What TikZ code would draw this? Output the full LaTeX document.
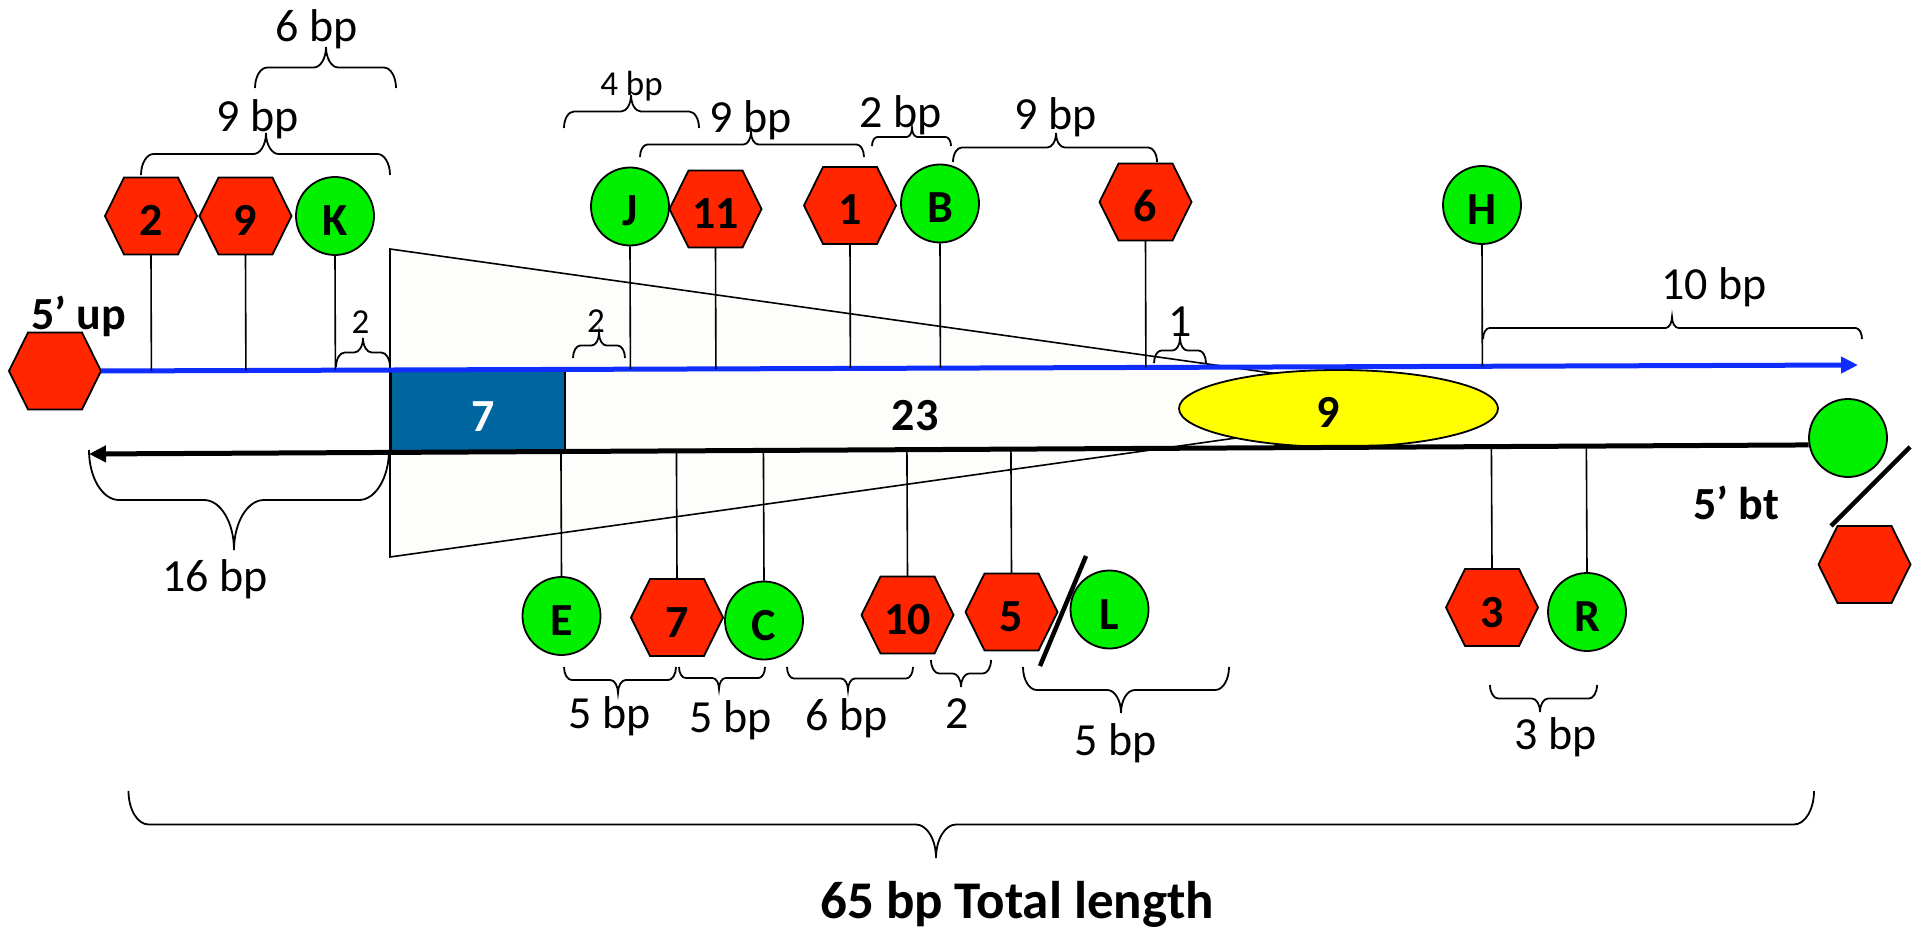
\documentclass[tikz,border=0pt]{standalone}
\usepackage{fontspec}
\setmainfont{Carlito}
\usetikzlibrary{calc,arrows.meta,shapes.geometric}
\definecolor{hexred}{RGB}{255,38,0}
\definecolor{grn}{RGB}{0,240,0}
\definecolor{boxblue}{RGB}{0,102,160}
\definecolor{lineblue}{RGB}{15,45,255}
\definecolor{yel}{RGB}{255,255,0}
\definecolor{trifill}{RGB}{253,253,251}
\tikzset{
  outl/.style={draw=black, line width=1.8pt},
  hexshape/.style={outl, fill=hexred},
  hexbox/.style={inner sep=0pt, minimum width=92pt, minimum height=77pt, draw=none},
  circ/.style={ellipse, outl, fill=grn, inner sep=0pt, minimum width=78pt, minimum height=78pt},
  inlbl/.style={font=\bfseries\fontsize{46}{46}\selectfont, anchor=base, yshift=-19.5pt, inner sep=0pt},
  lbl/.style={font=\fontsize{46}{46}\selectfont, anchor=base, inner sep=0pt},
  smlbl/.style={font=\fontsize{35}{35}\selectfont, anchor=base, inner sep=0pt},
  boldlbl/.style={font=\bfseries\fontsize{46}{46}\selectfont, anchor=base, inner sep=0pt},
  stem/.style={line width=1.6pt},
  brc/.style={line width=1.8pt},
  slash/.style={line width=4.5pt},
  blueln/.style={line width=5pt, draw=lineblue, -{Triangle[length=17pt,width=16pt]}},
  blackln/.style={line width=5pt, draw=black, -{Triangle[length=17pt,width=16pt]}},
}
% hexagon: name, x, y, text
\newcommand\hexa[4]{%
  \draw[hexshape] ({#2-46},{#3}) -- ({#2-27},{#3-38.5}) -- ({#2+27},{#3-38.5}) -- ({#2+46},{#3}) -- ({#2+27},{#3+38.5}) -- ({#2-27},{#3+38.5}) -- cycle;
  \node[hexbox] (#1) at (#2,#3) {};
  \node[inlbl] (#1t) at (#2,#3) {#4};
}
% circle: name, x, y, text
\newcommand\circa[4]{%
  \node[circ] (#1) at (#2,#3) {};
  \node[inlbl] (#1t) at (#2,#3) {#4};
}
% brace: x1, x2, yEnd, yTip, xTip
\newcommand\mybrace[5]{%
  \pgfmathsetmacro\mbrD{((#4)-(#3))/2}%
  \pgfmathsetmacro\mbrL{(#3)+\mbrD}%
  \pgfmathsetmacro\mbrR{min(0.6*abs(\mbrD),((#2)-(#1))/5)}%
  \draw[brc] (#1,#3) .. controls (#1,{#3+0.552*(\mbrD)}) and ({#1+0.448*\mbrR},\mbrL) .. ({#1+\mbrR},\mbrL)
    -- ({#5-\mbrR},\mbrL) .. controls ({#5-0.448*\mbrR},\mbrL) and (#5,{\mbrL+0.448*(\mbrD)}) .. (#5,#4)
    .. controls (#5,{\mbrL+0.448*(\mbrD)}) and ({#5+0.448*\mbrR},\mbrL) .. ({#5+\mbrR},\mbrL)
    -- ({#2-\mbrR},\mbrL) .. controls ({#2-0.448*\mbrR},\mbrL) and (#2,{#3+0.552*(\mbrD)}) .. (#2,#3);
}
\begin{document}
\begin{tikzpicture}[x=1pt,y=-1pt]
\fill[white] (0,0) rectangle (1919,933);
\useasboundingbox (0,0) rectangle (1919,933);

% cone
\draw[line width=1.6pt, fill=trifill] (390,249) -- (1485,403) -- (390,557) -- cycle;

% box and ellipse
\node[outl, fill=boxblue, minimum width=174pt, minimum height=83pt, inner sep=0pt] (box) at (478,411.5) {};
\node[inlbl, text=white] (boxt) at (483,411.5) {7};
\node[ellipse, outl, fill=yel, minimum width=319pt, minimum height=77pt, inner sep=0pt] (ell) at (1338.5,408.5) {};
\node[boldlbl] (ellt) at (1328,427) {9};
\node[boldlbl] (mid) at (915,430) {23};

% end markers
\hexa{hexL}{55}{371}{}
\hexa{hexR}{1864.5}{564.5}{}
\node[circ] (cG) at (1848,438) {};
\coordinate (bend) at (1858,365);
\coordinate (kend) at (89,454);

% strands
\draw[blueln] (hexL.east) -- (bend);
\draw[blackln] (cG.190) -- (kend);

% top row
\hexa{hexTwo}{151}{216}{2}
\hexa{hexNine}{245.5}{216}{9}
\circa{cK}{335}{216}{K}
\circa{cJ}{630}{206.5}{J}
\hexa{hexEleven}{715.5}{209}{11}
\hexa{hexOne}{850}{205.5}{1}
\circa{cB}{940}{203.5}{B}
\hexa{hexSix}{1145.5}{202}{6}
\circa{cH}{1482}{205}{H}

% bottom row
\circa{cE}{561.5}{616}{E}
\hexa{hexSevenB}{677}{617.5}{7}
\circa{cC}{764}{620.5}{C}
\hexa{hexTen}{907.5}{615}{10}
\hexa{hexFive}{1011.5}{612}{5}
\circa{cL}{1109.5}{609.5}{L}
\hexa{hexThree}{1492}{607.5}{3}
\circa{cR}{1587}{612}{R}

% stems to top strand
\foreach \n in {hexTwo,hexNine,cK,cJ,hexEleven,hexOne,cB,hexSix,cH}
  \draw[stem] (\n.south) -- ($(hexL.east)!(\n.south)!(bend)$);
% stems to bottom strand
\foreach \n in {cE,hexSevenB,cC,hexTen,hexFive,hexThree,cR}
  \draw[stem] (\n.north) -- ($(cG.190)!(\n.north)!(kend)$);

% slashes
\draw[slash] (1086,556) -- (1040,666);
\draw[slash] (1910,447) -- (1831,526);

% top braces
\mybrace{255}{396}{88}{47}{326}
\node[lbl] (l6bp) at (317,42) {6 bp};
\mybrace{141}{390}{175}{133}{266}
\node[lbl] (l9bpa) at (257.5,132) {9 bp};
\mybrace{564}{699}{128}{95}{631}
\node[smlbl] (l4bp) at (631.5,96) {4 bp};
\mybrace{640}{864}{157}{132}{751}
\node[lbl] (l9bpb) at (751,133) {9 bp};
\mybrace{872}{951}{146}{128}{912}
\node[lbl] (l2bp) at (901,128) {2 bp};
\mybrace{953}{1157}{162}{133}{1056}
\node[lbl] (l9bpc) at (1056,130) {9 bp};
\mybrace{336}{390}{367}{338}{363}
\node[smlbl] (l2a) at (360.5,333) {2};
\mybrace{573}{625}{358}{333}{599}
\node[smlbl] (l2b) at (596,332) {2};
\mybrace{1154}{1206}{363}{338}{1180}
\node[lbl] (l1) at (1180.5,336) {1};
\mybrace{1483}{1862}{339}{317}{1672}
\node[lbl] (l10bp) at (1714,299) {10 bp};

% bottom braces
\mybrace{89}{389}{450}{550}{234}
\node[lbl] (l16bp) at (215,591) {16 bp};
\mybrace{564}{676}{667}{693}{618}
\node[lbl] (l5bpa) at (610,728) {5 bp};
\mybrace{679}{765}{667}{689}{719}
\node[lbl] (l5bpb) at (731,732) {5 bp};
\mybrace{787}{913}{667}{690}{848}
\node[lbl] (l6bpb) at (847,730) {6 bp};
\mybrace{931}{991}{660}{687}{961}
\node[lbl] (l2c) at (957,728) {2};
\mybrace{1023}{1229}{667}{713}{1121}
\node[lbl] (l5bpc) at (1116,755) {5 bp};
\mybrace{1490}{1597}{685}{712}{1540}
\node[lbl] (l3bp) at (1555.5,749) {3 bp};
\mybrace{128.5}{1814}{791}{858}{936}
\node[font=\bfseries\fontsize{53}{53}\selectfont, anchor=base, inner sep=0pt] (total) at (1017,918) {65 bp Total length};

% end labels
\node[boldlbl] (up) at (78.5,330) {5’ up};
\node[boldlbl] (bt) at (1736,519) {5’ bt};
\end{tikzpicture}
\end{document}
